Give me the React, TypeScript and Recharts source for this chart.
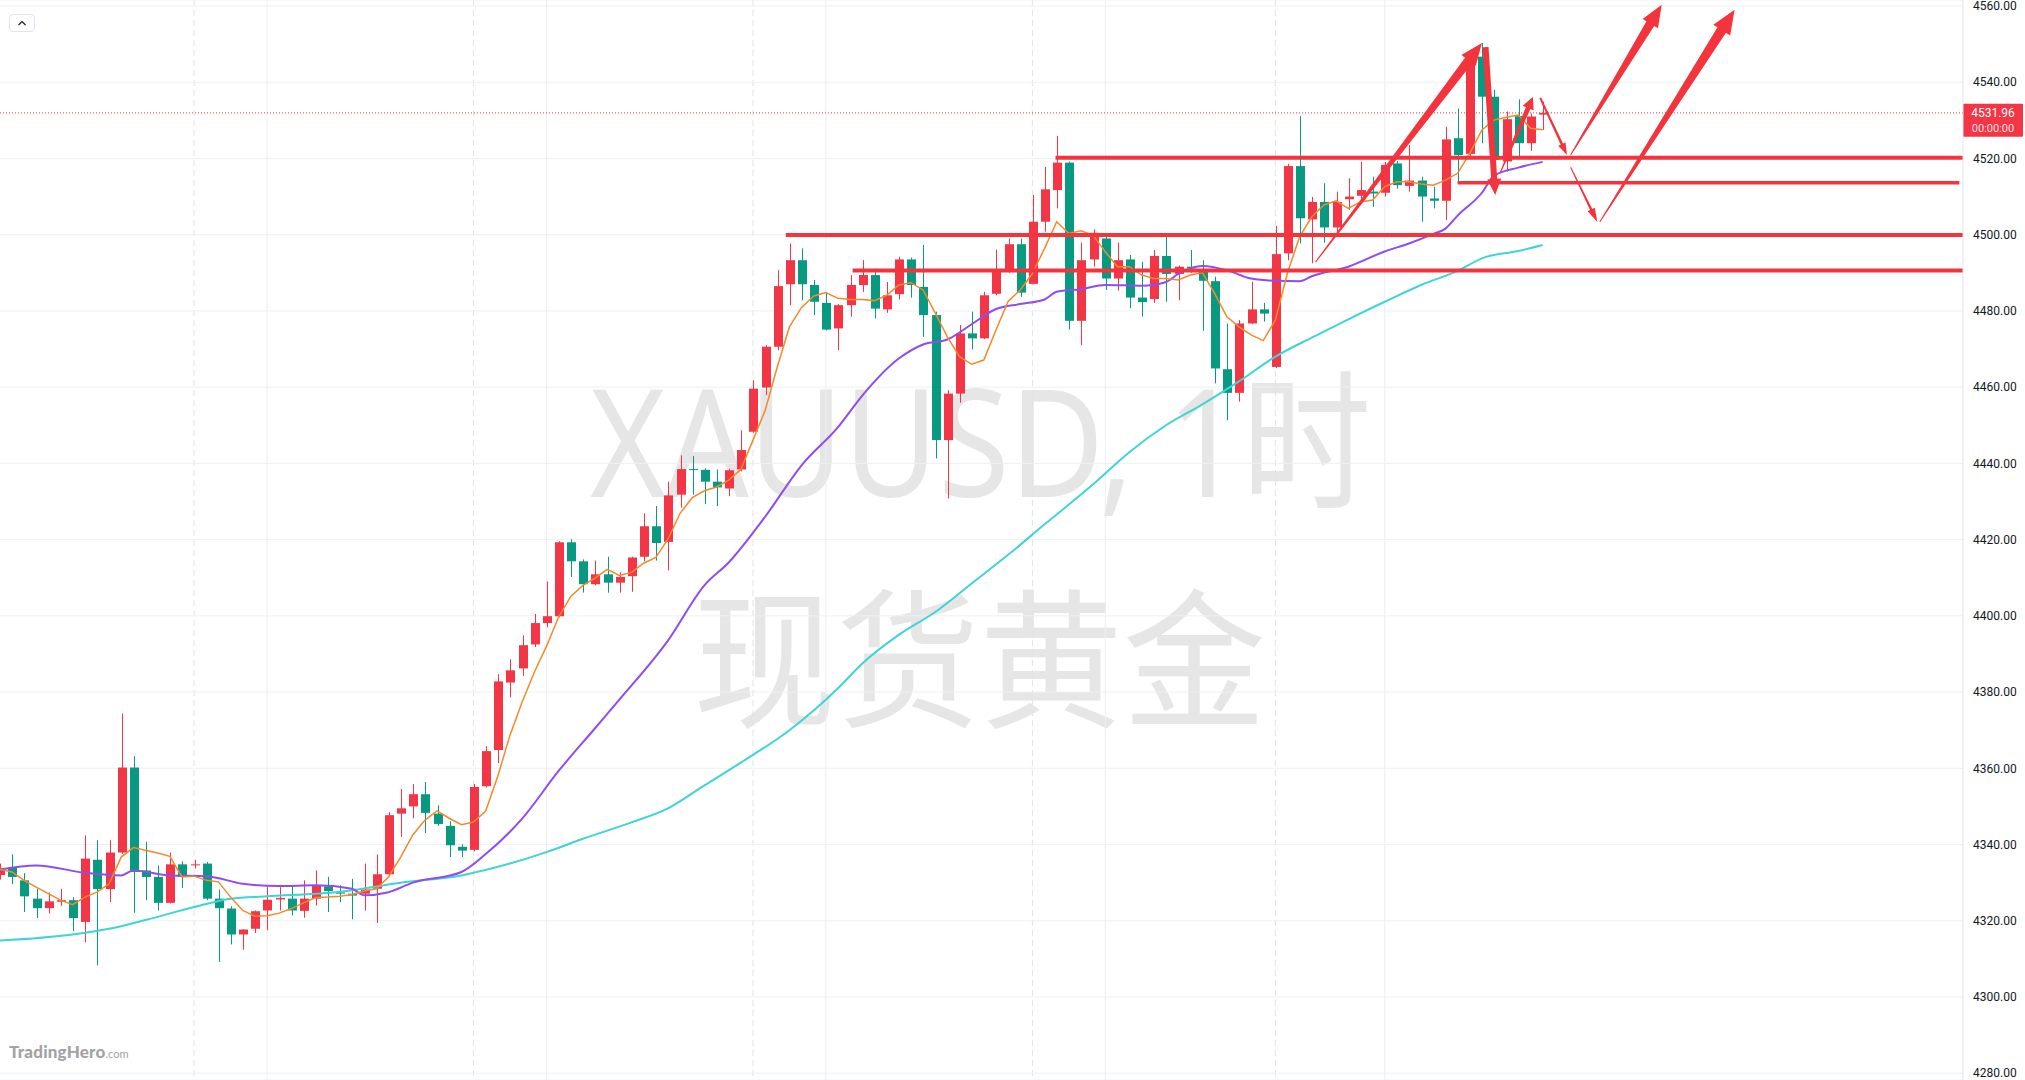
import { ComposedChart, Bar, Line, XAxis, YAxis, CartesianGrid, ReferenceLine } from "recharts"

// candle colours: red = up, green = down (CN convention)
const UP = "#F23645"
const DOWN = "#089981"
const INK = "#F4343D"

// 1h candles, index 0..127 (leftmost one is cut by the frame)
const opens = [
    4332.0, 4333.9, 4330.6, 4325.8, 4323.3, 4325.0, 4325.4, 4319.7, 4336.0, 4328.3,
    4337.9, 4360.2, 4333.2, 4331.5, 4324.7, 4334.8, 4334.6, 4335.0, 4325.8, 4323.2,
    4316.4, 4317.9, 4322.7, 4325.6, 4325.8, 4322.6, 4325.8, 4329.0, 4327.4, 4327.1,
    4327.1, 4328.4, 4332.2, 4348.1, 4350.0, 4353.2, 4348.1, 4344.9, 4339.4, 4338.6,
    4355.3, 4364.8, 4382.5, 4386.2, 4392.5, 4398.1, 4399.9, 4419.3, 4414.3, 4408.3,
    4410.9, 4408.7, 4410.4, 4415.5, 4423.5, 4419.4, 4431.8, 4438.5, 4438.3, 4435.2,
    4433.4, 4438.4, 4448.3, 4459.9, 4470.6, 4487.0, 4493.3, 4486.8, 4482.1, 4475.4,
    4481.5, 4486.8, 4489.4, 4480.4, 4484.4, 4493.5, 4486.3, 4478.9, 4446.1, 4458.3,
    4474.1, 4472.8, 4484.5, 4490.7, 4497.5, 4487.1, 4503.4, 4511.7, 4518.9, 4477.4,
    4493.5, 4499.0, 4488.5, 4493.5, 4483.5, 4483.1, 4494.4, 4489.7, 4491.6, 4490.3,
    4487.8, 4464.7, 4458.5, 4476.7, 4480.4, 4465.3, 4495.1, 4518.0, 4504.0, 4508.6,
    4501.9, 4509.3, 4510.2, 4511.3, 4511.0, 4518.7, 4512.8, 4514.2, 4509.5, 4508.9,
    4525.3, 4521.2, 4546.7, 4536.2, 4519.2, 4531.1, 4524.0, 4531.5,
]
const highs = [
    4335.0, 4337.4, 4332.5, 4328.4, 4327.4, 4328.4, 4326.2, 4342.4, 4341.1, 4341.1,
    4374.4, 4363.2, 4340.7, 4334.5, 4337.9, 4335.6, 4336.0, 4335.4, 4328.2, 4323.8,
    4317.8, 4322.7, 4328.8, 4328.8, 4329.0, 4330.6, 4333.2, 4331.5, 4329.3, 4331.0,
    4335.0, 4337.4, 4348.5, 4354.6, 4355.9, 4356.4, 4350.3, 4346.1, 4340.1, 4355.9,
    4365.8, 4384.7, 4388.6, 4394.9, 4400.5, 4409.0, 4419.6, 4420.1, 4414.8, 4414.5,
    4415.5, 4411.4, 4415.5, 4426.9, 4428.8, 4435.2, 4442.1, 4441.9, 4438.7, 4438.4,
    4438.6, 4448.7, 4461.8, 4471.0, 4490.7, 4497.7, 4496.4, 4488.1, 4485.0, 4481.8,
    4489.4, 4493.3, 4491.1, 4487.6, 4494.2, 4494.0, 4497.3, 4479.8, 4459.2, 4476.3,
    4479.8, 4485.0, 4496.1, 4499.0, 4499.0, 4510.4, 4517.8, 4525.9, 4519.2, 4497.9,
    4501.4, 4500.3, 4497.9, 4494.7, 4492.9, 4496.0, 4499.5, 4491.9, 4496.0, 4493.3,
    4489.0, 4476.7, 4477.6, 4487.6, 4482.1, 4502.3, 4518.6, 4531.1, 4509.9, 4513.5,
    4511.3, 4514.8, 4519.1, 4515.2, 4519.1, 4519.3, 4523.5, 4515.2, 4512.6, 4528.3,
    4533.1, 4547.5, 4550.3, 4538.0, 4532.3, 4535.5, 4531.8, 4534.9,
]
const lows = [
    4330.8, 4329.6, 4322.3, 4320.7, 4321.9, 4323.9, 4317.3, 4314.4, 4308.3, 4324.9,
    4337.5, 4322.1, 4325.4, 4322.7, 4324.5, 4328.6, 4333.7, 4325.4, 4309.2, 4313.8,
    4312.4, 4316.8, 4317.5, 4322.7, 4321.4, 4320.8, 4324.0, 4322.3, 4324.9, 4320.4,
    4322.7, 4319.4, 4332.0, 4342.0, 4346.9, 4343.0, 4344.9, 4336.7, 4336.7, 4338.2,
    4355.0, 4361.4, 4378.6, 4384.2, 4391.8, 4397.0, 4399.6, 4410.2, 4406.1, 4408.0,
    4406.1, 4406.1, 4406.3, 4414.3, 4414.5, 4411.9, 4428.4, 4431.8, 4429.3, 4428.8,
    4431.4, 4437.9, 4448.0, 4457.9, 4469.7, 4481.5, 4482.8, 4478.9, 4474.9, 4469.7,
    4478.5, 4485.0, 4478.0, 4479.5, 4483.0, 4483.5, 4473.2, 4441.3, 4430.8, 4455.9,
    4469.9, 4472.6, 4484.1, 4490.0, 4483.7, 4487.0, 4500.8, 4506.9, 4475.1, 4471.0,
    4491.6, 4485.5, 4485.3, 4480.7, 4478.5, 4482.1, 4482.4, 4482.8, 4490.0, 4474.8,
    4461.0, 4451.3, 4456.2, 4476.6, 4477.2, 4465.0, 4493.3, 4497.7, 4492.5, 4497.9,
    4500.8, 4506.5, 4509.1, 4507.3, 4510.0, 4512.1, 4511.3, 4503.4, 4506.9, 4503.8,
    4513.9, 4520.0, 4524.0, 4512.0, 4516.5, 4520.6, 4522.0, 4527.5,
]
const closes = [
    4333.8, 4331.5, 4326.4, 4323.3, 4325.1, 4325.4, 4320.7, 4336.3, 4328.3, 4337.9,
    4360.2, 4332.8, 4331.5, 4324.7, 4334.8, 4331.5, 4334.8, 4325.8, 4323.3, 4316.4,
    4317.7, 4322.5, 4325.5, 4326.0, 4322.7, 4325.8, 4329.2, 4327.8, 4327.1, 4326.6,
    4328.2, 4332.2, 4347.7, 4349.5, 4353.2, 4348.3, 4345.4, 4339.8, 4338.4, 4355.1,
    4364.5, 4382.8, 4385.7, 4392.3, 4398.1, 4399.9, 4419.3, 4414.3, 4408.3, 4410.9,
    4408.7, 4410.2, 4415.3, 4423.5, 4419.1, 4431.6, 4438.5, 4438.3, 4435.2, 4433.7,
    4438.2, 4443.5, 4459.6, 4470.6, 4486.5, 4493.3, 4487.0, 4482.4, 4475.1, 4481.5,
    4486.8, 4489.4, 4480.6, 4484.1, 4493.5, 4486.8, 4478.9, 4446.1, 4458.3, 4474.1,
    4472.8, 4484.1, 4490.7, 4497.5, 4484.8, 4503.4, 4511.9, 4518.9, 4477.4, 4493.3,
    4500.5, 4488.5, 4493.3, 4483.5, 4482.3, 4494.4, 4489.7, 4491.6, 4491.2, 4487.9,
    4464.9, 4458.5, 4476.7, 4480.4, 4479.3, 4494.9, 4518.0, 4504.3, 4508.6, 4501.9,
    4508.6, 4510.0, 4511.7, 4510.8, 4518.3, 4513.0, 4514.2, 4510.0, 4508.9, 4525.0,
    4520.9, 4546.7, 4536.2, 4519.6, 4530.3, 4524.0, 4531.0, 4531.96,
]

// fast MA (orange), read per candle
const maFast = [
    4333.5, 4332.8, 4330.6, 4328.8, 4327.1, 4325.4, 4324.2, 4326.2, 4327.5, 4329.7,
    4336.7, 4339.2, 4338.5, 4337.8, 4336.9, 4331.5, 4331.7, 4330.6, 4330.2, 4326.2,
    4322.7, 4321.2, 4321.3, 4322.0, 4323.2, 4324.7, 4326.1, 4326.2, 4326.4, 4326.9,
    4327.8, 4328.4, 4331.5, 4336.7, 4342.5, 4346.4, 4348.8, 4346.9, 4345.2, 4345.9,
    4348.8, 4358.0, 4368.7, 4377.4, 4385.2, 4392.0, 4399.7, 4405.1, 4408.0, 4409.9,
    4412.2, 4410.6, 4411.4, 4413.8, 4415.3, 4420.1, 4426.9, 4431.0, 4432.8, 4433.8,
    4435.6, 4438.4, 4446.1, 4453.9, 4465.3, 4475.8, 4480.9, 4483.9, 4484.8, 4483.3,
    4483.0, 4483.0, 4482.7, 4484.1, 4486.8, 4487.4, 4485.5, 4479.5, 4473.2, 4468.0,
    4466.0, 4467.1, 4475.0, 4482.5, 4485.5, 4489.8, 4496.4, 4503.4, 4500.3, 4501.0,
    4499.9, 4495.5, 4491.6, 4491.6, 4489.4, 4488.5, 4488.5, 4488.1, 4489.4, 4490.0,
    4484.6, 4478.5, 4475.8, 4473.7, 4472.2, 4477.6, 4490.0, 4499.5, 4504.7, 4507.8,
    4508.9, 4506.9, 4508.6, 4509.1, 4512.6, 4513.9, 4513.9, 4513.3, 4513.0, 4514.3,
    4516.1, 4521.3, 4527.5, 4530.1, 4530.8, 4531.4, 4527.9, 4527.5,
]

// mid MA (purple) and slow MA (cyan), read at sample candles
const maMidIdx = [0, 3, 7, 10, 11, 14, 17, 20, 23, 26, 29, 30, 32, 34, 38, 40, 43, 46, 49, 51, 55, 58, 60, 63, 66, 69, 71, 74, 76, 78, 80, 82, 84, 86, 87, 89, 91, 94, 96, 97, 99, 101, 103, 105, 107, 108, 111, 114, 116, 118, 119, 120, 122, 123, 125, 127]
const maMidVal = [
    4333.4, 4334.5, 4332.6, 4331.9, 4333.2, 4331.9, 4331.7, 4329.7, 4329.1, 4329.3,
    4328.4, 4326.7, 4327.5, 4330.0, 4332.8, 4337.5, 4346.8, 4359.3, 4370.5, 4378.0,
    4393.5, 4408.0, 4414.0, 4426.0, 4439.5, 4449.5, 4457.8, 4467.5, 4471.2, 4472.5,
    4476.5, 4480.5, 4481.8, 4483.0, 4485.0, 4485.7, 4486.8, 4486.6, 4487.6, 4489.7,
    4491.8, 4490.7, 4488.5, 4487.9, 4487.8, 4489.1, 4491.6, 4495.6, 4497.7, 4500.2,
    4501.6, 4505.0, 4511.0, 4515.5, 4517.6, 4519.1,
]
const maSlowIdx = [0, 6, 9, 12, 16, 19, 22, 28, 33, 38, 42, 45, 48, 52, 55, 58, 61, 65, 69, 71, 74, 77, 80, 83, 86, 90, 93, 96, 99, 102, 105, 108, 111, 114, 117, 120, 122, 125, 127]
const maSlowVal = [
    4314.8, 4316.4, 4317.9, 4320.2, 4323.6, 4325.8, 4326.4, 4327.6, 4330.0, 4331.9,
    4335.0, 4338.0, 4341.5, 4345.8, 4349.5, 4355.5, 4361.5, 4370.0, 4381.0, 4387.5,
    4395.0, 4401.0, 4408.5, 4416.0, 4424.0, 4434.5, 4443.0, 4450.0, 4455.5, 4461.5,
    4468.0, 4473.0, 4477.8, 4482.4, 4486.8, 4490.5, 4493.8, 4495.7, 4497.3,
]

const priceTicks = [4280, 4300, 4320, 4340, 4360, 4380, 4400, 4420, 4440, 4460, 4480, 4500, 4520, 4540, 4560]
const sessionStarts = [16, 39, 62, 85, 105]
const dayMarks = [22, 45, 68, 91, 114]
const lastPrice = 4531.96

// hand-drawn levels: [from candle, to candle, price]
const levelFrom = [86.9, 120.0, 64.7, 70.2]
const levelTo = [161.6, 161.3, 161.6, 161.6]
const levelPrice = [4520.2, 4513.6, 4499.9, 4490.6]

// hand-drawn arrows: tail -> tip as [candle, price]
const arrowTail = [[108.3, 4492.8], [122.3, 4549.2], [123.5, 4516.2], [126.8, 4535.9], [129.3, 4520.9], [129.3, 4517.7], [131.7, 4503.3]]
const arrowTip = [[122.0, 4550.3], [123.1, 4510.4], [126.2, 4536.1], [129.0, 4520.9], [136.8, 4560.3], [131.5, 4503.3], [142.8, 4559.0]]

const rows = opens.map((o, i) => ({
    i,
    o,
    h: highs[i],
    l: lows[i],
    c: closes[i],
    fast: maFast[i],
    mid: maMidIdx.includes(i) ? maMidVal[maMidIdx.indexOf(i)] : null,
    slow: maSlowIdx.includes(i) ? maSlowVal[maSlowIdx.indexOf(i)] : null,
}))

function Candle(props: any) {
    const { x, y, width, height, payload } = props
    const { o, h, l, c } = payload
    const k = h > l ? height / (h - l) : 0
    const top = y + (h - Math.max(o, c)) * k
    const bot = y + (h - Math.min(o, c)) * k
    const color = c >= o ? UP : DOWN
    const cx = Math.round(x + width / 2)
    return (
        <g>
            <rect x={cx} y={y} width={1} height={Math.max(1, height)} fill={color} />
            <rect x={cx - 4} y={top} width={9} height={Math.max(1, bot - top)} fill={color} />
        </g>
    )
}

// tapered marker arrow
const arrowShape = (w0: number, w1: number, hw: number, hl: number) => (p: any) => {
    const { x1, y1, x2, y2 } = p
    if ([x1, y1, x2, y2].some(v => v == null || isNaN(v))) return <g />
    const len = Math.hypot(x2 - x1, y2 - y1) || 1
    const ux = (x2 - x1) / len
    const uy = (y2 - y1) / len
    const nx = -uy
    const ny = ux
    const bx = x2 - ux * hl
    const by = y2 - uy * hl
    const pts = [
        [x1 + nx * w0 / 2, y1 + ny * w0 / 2],
        [bx + nx * w1 / 2, by + ny * w1 / 2],
        [bx + nx * hw / 2, by + ny * hw / 2],
        [x2, y2],
        [bx - nx * hw / 2, by - ny * hw / 2],
        [bx - nx * w1 / 2, by - ny * w1 / 2],
        [x1 - nx * w0 / 2, y1 - ny * w0 / 2],
    ]
    return <polygon points={pts.map(q => q.join(",")).join(" ")} fill={INK} />
}

const arrowStyles = [
    arrowShape(1, 9, 18, 22),
    arrowShape(6, 6, 14, 16),
    arrowShape(1, 5, 12, 12),
    arrowShape(2, 2.5, 8, 12),
    arrowShape(1, 9, 18, 22),
    arrowShape(1, 2.5, 8, 14),
    arrowShape(1, 10, 20, 24),
]
const levelWidths = [4, 3.5, 4, 4]

function PriceTag(props: any) {
    const { viewBox } = props
    if (!viewBox) return null
    const x = viewBox.x + viewBox.width
    const y = viewBox.y
    return (
        <g>
            <rect x={x} y={y - 9} width={60} height={33} fill={UP} rx={1} />
            <text x={x + 30} y={y + 4} textAnchor="middle" fill="#fff" fontSize={12} fontFamily="Roboto, sans-serif">
                {lastPrice.toFixed(2)}
            </text>
            <text x={x + 30} y={y + 19} textAnchor="middle" fill="#fff" fillOpacity={0.85} fontSize={11} fontFamily="Roboto, sans-serif">
                00:00:00
            </text>
        </g>
    )
}

export default function App() {
    return (
        <div style={{ position: "fixed", left: 0, top: 0, width: 2025, height: 1080, background: "#fff", overflow: "hidden" }}>
            <svg width={1963} height={1080} style={{ position: "absolute", left: 0, top: 0 }}>
                <text x={590} y={497} fontSize={150} fill="#e6e6e6" textLength={781} lengthAdjust="spacingAndGlyphs"
                    fontFamily="'Noto Sans', 'Noto Sans CJK SC', sans-serif">
                    XAUUSD, 1时
                </text>
                <text x={693} y={716} fontSize={150} fill="#e6e6e6" textLength={573} lengthAdjust="spacingAndGlyphs"
                    fontFamily="'Noto Sans CJK SC', sans-serif">
                    现货黄金
                </text>
            </svg>
            <div style={{ position: "absolute", left: 0, top: 0 }}>
                <ComposedChart width={2025} height={1080} data={rows} margin={{ top: 0, right: 0, bottom: 0, left: 0 }}>
                    <CartesianGrid horizontal={false} verticalValues={dayMarks} stroke="#eceef2" />
                    <CartesianGrid horizontal={false} verticalValues={sessionStarts} stroke="#e0e2e6" strokeDasharray="6 4" />
                    <CartesianGrid vertical={false} stroke="#eef0f3" />
                    <XAxis dataKey="i" type="number" domain={[0.02, 161.6]} allowDataOverflow hide />
                    <YAxis
                        orientation="right"
                        domain={[4278.22, 4561.57]}
                        allowDataOverflow
                        ticks={priceTicks}
                        interval={0}
                        width={62}
                        tickLine={false}
                        tickMargin={4}
                        axisLine={{ stroke: "#e0e3eb" }}
                        tick={{ fill: "#131722", fontSize: 12, fontFamily: "Roboto, sans-serif" }}
                        tickFormatter={(v) => Number(v).toFixed(2)}
                    />
                    <Bar dataKey={(d: any) => [d.l, d.h]} barSize={9} shape={(p: any) => <Candle {...p} />} isAnimationActive={false} />
                    <Line dataKey="slow" type="monotone" stroke="#3fd4d8" strokeWidth={2} dot={false} connectNulls isAnimationActive={false} />
                    <Line dataKey="mid" type="monotone" stroke="#8f4cf2" strokeWidth={2} dot={false} connectNulls isAnimationActive={false} />
                    <Line dataKey="fast" type="linear" stroke="#f5892a" strokeWidth={1.5} dot={false} isAnimationActive={false} />
                    <ReferenceLine y={lastPrice} stroke={UP} strokeDasharray="1 2" label={(p: any) => <PriceTag {...p} />} />
                    {levelPrice.map((p, k) => (
                        <ReferenceLine
                            key={"l" + k}
                            segment={[{ x: levelFrom[k], y: p }, { x: levelTo[k], y: p }]}
                            stroke={INK}
                            strokeWidth={levelWidths[k]}
                            ifOverflow="visible"
                        />
                    ))}
                    {arrowTail.map((t, k) => (
                        <ReferenceLine
                            key={"a" + k}
                            segment={[{ x: t[0], y: t[1] }, { x: arrowTip[k][0], y: arrowTip[k][1] }]}
                            shape={arrowStyles[k]}
                            ifOverflow="visible"
                        />
                    ))}
                </ComposedChart>
            </div>
            <div style={{ position: "absolute", left: 9, top: 14, width: 26, height: 18, border: "1px solid #e0e3eb", borderRadius: 4, background: "#fff", boxSizing: "border-box" }}>
                <svg width={24} height={16} style={{ display: "block" }}>
                    <polyline points="8.5,10 12,6.5 15.5,10" fill="none" stroke="#131722" strokeWidth={1.2} />
                </svg>
            </div>
            <div style={{ position: "absolute", left: 9, top: 1041, color: "#a3a3a3", fontFamily: "Lato, sans-serif", whiteSpace: "nowrap" }}>
                <span style={{ fontSize: 17, fontWeight: 900, letterSpacing: 0.2 }}>TradingHero</span>
                <span style={{ fontSize: 11, fontWeight: 400 }}>.com</span>
            </div>
        </div>
    )
}
